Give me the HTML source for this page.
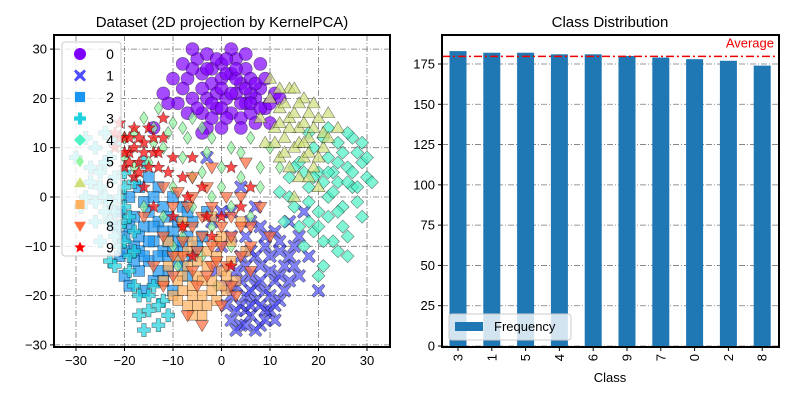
<!DOCTYPE html>
<html><head><meta charset="utf-8"><style>
html,body{margin:0;padding:0;background:#fff}
svg{display:block;font-family:"Liberation Sans",sans-serif}
</style></head><body>
<svg id="chart" width="800" height="400" viewBox="0 0 800 400">
<rect width="800" height="400" fill="#fff"/>
<text x="222" y="27" font-size="15" text-anchor="middle">Dataset (2D projection by KernelPCA)</text>
<text x="610" y="27" font-size="15" text-anchor="middle">Class Distribution</text>
<g id="left"></g>
<g id="right"></g>
</svg>
<script>
const classLabels=["0","1","2","3","4","5","6","7","8","9"];
const c0=[[-5,28],[-3,29],[0,27],[3,28],[5,26],[-7,24],[-4,25],[-2,23],[0,24],[2,25],[4,23],[6,24],[8,22],[-9,19],[-6,20],[-3,20],[-1,21],[1,20],[3,21],[5,19],[7,20],[9,18],[11,21],[-4,17],[-1,18],[2,17],[4,16],[6,17],[-10,24],[-11,19],[-14,14],[10,15],[12,20],[0,14],[-3,14],[8,27],[2,30],[-6,30],[-2,26],[6,21],
[-4,22],[-2,19],[0,22],[1,25],[3,24],[5,22],[7,23],[-6,26],[-8,22],[-5,18],[0,18],[2,21],[4,19],[6,19],[8,18],[-1,28],[1,28],[-3,26],[3,26],[5,29],[-8,27],[10,19],[9,24],[-7,17],[-12,21],[4,14],[7,15],[-2,16],[1,16],[-4,13]];
const c1=[[2,-25],[4,-26],[6,-24],[8,-26],[10,-23],[5,-20],[7,-21],[9,-19],[11,-17],[12,-21],[3,-18],[6,-16],[8,-14],[10,-12],[13,-14],[15,-10],[16,-16],[14,-5],[4,-12],[0,-10],[-2,-5],[2,-3],[5,-8],[12,-9],[18,-12],[20,-19],[1,-22],[-1,-15],[9,-8],[3,-27],[11,-25],[7,-2],[17,-3],[4,2],[-3,8],[7,-18],[9,-23],
[5,-23],[6,-22],[8,-22],[10,-20],[4,-22],[6,-19],[8,-17],[10,-15],[11,-22],[12,-16],[14,-12],[13,-19],[3,-15],[5,-14],[7,-12],[9,-10],[11,-7],[2,-20],[4,-17],[6,-11],[8,-6],[16,-8],[14,-17],[1,-18],[9,-25],[7,-27],[5,-26],[3,-23],[15,-14],[12,-11],[2,-8],[0,-3],[6,-5]];
const c2=[[-20,-8],[-18,-10],[-16,-6],[-14,-9],[-12,-11],[-15,-13],[-13,-5],[-10,-7],[-8,-10],[-18,-4],[-21,-12],[-17,-15],[-11,-15],[-9,-13],[-6,-5],[-12,-2],[-16,-1],[-19,0],[-8,-2],[-14,-17],[-10,-19],[-6,-12],[-22,-6],[-4,-8],[-13,2],[-7,-16],[-20,-16],[-15,4],[-3,-3],[-17,-8],[-11,-9],
[-19,-6],[-17,-11],[-15,-9],[-13,-12],[-11,-12],[-9,-9],[-7,-8],[-16,-12],[-14,-6],[-12,-7],[-10,-11],[-18,-13],[-20,-11],[-13,-15],[-8,-14],[-15,-3],[-11,-4],[-9,-5],[-21,-3],[-19,-18],[-16,-19],[-12,-17],[-5,-10],[-14,0],[-10,0],[-17,2],[-7,-3]];
const c3=[[-25,5],[-23,8],[-27,3],[-29,-2],[-24,0],[-22,-3],[-20,-5],[-18,-7],[-26,-5],[-30,8],[-28,12],[-24,13],[-21,-10],[-23,-13],[-19,-15],[-17,-20],[-15,-23],[-16,-27],[-13,-26],[-12,-21],[-20,2],[-22,-8],[-25,-9],[-18,3],[-14,-18],[-11,-24],[-16,7],[-19,-12],
[-21,0],[-23,-1],[-25,2],[-27,6],[-26,10],[-22,4],[-20,-2],[-19,-4],[-21,-6],[-23,-5],[-24,-3],[-28,0],[-22,11],[-26,-1],[-20,-9],[-18,-11],[-22,-14],[-18,-18],[-15,-20],[-13,-22],[-17,-24],[-20,5],[-24,7]];
const c4=[[20,5],[22,8],[24,3],[26,6],[28,9],[30,4],[22,0],[25,-2],[28,-1],[20,-3],[18,2],[16,7],[14,4],[24,11],[27,12],[21,12],[19,-7],[23,-9],[26,-12],[17,-10],[15,-2],[13,-5],[29,-4],[31,3],[21,-14],[18,13],[25,-6],[12,1],[20,-16],[23,5],[27,2],
[21,3],[23,1],[24,7],[26,3],[25,9],[27,5],[29,7],[22,5],[19,4],[17,5],[18,-1],[20,-6],[22,-4],[24,-3],[26,-8],[21,-9],[18,-5],[16,-6],[14,0],[15,6],[28,2],[30,8],[29,11],[24,-11],[19,10],[22,14],[26,13]];
const c5=[[-18,13],[-14,14],[-10,15],[-6,16],[-2,12],[2,10],[6,12],[-12,10],[-8,8],[-4,5],[0,2],[-10,2],[-15,7],[-6,-2],[-2,-6],[2,-10],[-8,-8],[-12,-4],[4,4],[8,6],[-16,-2],[-4,14],[10,10],[-20,8],[-13,18],[6,-4],[-9,-14],
[-16,16],[-11,13],[-7,12],[-3,9],[0,6],[4,9],[-14,11],[-6,4],[-2,0],[2,-2],[-10,-10],[-4,-12],[-1,-18],[8,2],[12,6],[-18,6],[-20,12],[-8,14]];
const c6=[[10,20],[12,18],[14,16],[16,14],[18,12],[20,16],[13,12],[15,10],[17,8],[19,6],[11,14],[9,11],[21,10],[22,17],[14,22],[17,20],[12,8],[20,2],[16,4],[24,14],[10,24],[18,17],[8,16],[15,0],
[13,19],[15,17],[17,15],[19,14],[21,13],[14,14],[16,11],[18,9],[20,8],[12,15],[11,11],[13,9],[16,19],[19,19],[15,22],[18,4],[22,12],[12,22],[17,11],[14,6]];
const c7=[[-8,-16],[-6,-18],[-4,-20],[-2,-17],[0,-15],[2,-13],[-5,-13],[-3,-11],[-7,-22],[-10,-20],[-1,-21],[1,-19],[-6,-9],[-9,-12],[3,-17],[-4,-24],[-12,-17],[0,-8],[-2,-4],[5,-11],[-8,-5],[-11,-9],[4,-5],
[-7,-14],[-5,-16],[-3,-14],[-1,-12],[1,-16],[-6,-20],[-8,-19],[-2,-19],[0,-18],[-4,-17],[-9,-17],[-11,-14],[-3,-22],[-5,-22],[-7,-11],[-1,-9],[2,-9],[-9,-21],[-6,-24]];
const c8=[[-10,-2],[-6,0],[-2,-2],[2,-4],[6,-6],[-8,-6],[-4,-8],[0,-10],[4,-12],[-12,-8],[-8,-12],[-2,-14],[-5,-18],[2,-18],[-14,-14],[-10,-16],[-6,4],[-2,6],[4,0],[8,-2],[-16,-4],[-12,2],[0,-22],[6,-15],[-4,-26],[5,7],[-7,-24],[10,-8],
[-6,-6],[-4,-4],[-2,-10],[0,-6],[2,-8],[4,-6],[-8,-9],[-5,-11],[-3,-16],[-1,-13],[1,-14],[-7,-2],[-3,2],[1,0],[-10,-12],[-6,-15],[-12,-18],[3,-20],[6,-10],[-9,1]];
const c9=[[-20,12],[-18,14],[-16,11],[-19,9],[-17,7],[-14,9],[-21,15],[-22,10],[-15,14],[-12,12],[-13,6],[-10,8],[-18,4],[-16,2],[-8,4],[-6,8],[-4,2],[-10,-4],[-2,-8],[-6,-12],[2,6],[0,-4],[6,2],[-14,-2],[-20,6],[-12,16],[2,-14],
[-19,12],[-17,12],[-21,12],[-18,10],[-20,9],[-16,9],[-15,6],[-17,5],[-19,7],[-14,12],[-22,13],[-13,9],[-11,5],[-7,0],[-3,-4],[4,-2],[-8,-6]];
const scatterTicks=[-30,-20,-10,0,10,20,30];
const barCategories=["3","1","5","4","6","9","7","0","2","8"];
const barValues=[183,182,182,181,181,180,179,178,177,174];
const barTicks=[0,25,50,75,100,125,150,175];

const NS="http://www.w3.org/2000/svg";
function mk(tag,attrs,parent){const e=document.createElementNS(NS,tag);for(const k in attrs)e.setAttribute(k,attrs[k]);parent.appendChild(e);return e;}
const L=document.getElementById('left'),R=document.getElementById('right');
const lx0=54,lx1=390,ly0=35,ly1=347;
const sx=v=>221.5+v*4.85, sy=v=>197-v*4.93;
scatterTicks.forEach(t=>{
 const g1=mk('line',{x1:sx(t),x2:sx(t),y1:ly0,y2:ly1,stroke:'#777','stroke-width':0.8,'stroke-dasharray':'6 2 1 2'},L);
 
 const g2=mk('line',{x1:lx0,x2:lx1,y1:sy(t),y2:sy(t),stroke:'#777','stroke-width':0.8,'stroke-dasharray':'6 2 1 2'},L);
 
 mk('line',{x1:sx(t),x2:sx(t),y1:ly1,y2:ly1+4,stroke:'#000'},L);
 mk('line',{x1:lx0-4,x2:lx0,y1:sy(t),y2:sy(t),stroke:'#000'},L);
 const a=mk('text',{x:sx(t),y:ly1+18,'font-size':13,'text-anchor':'middle'},L);a.textContent=t===0?'0':(t<0?'\u2212'+(-t):t);
 
 const b=mk('text',{x:lx0-7,y:sy(t)+4.5,'font-size':13,'text-anchor':'end'},L);b.textContent=t===0?'0':(t<0?'\u2212'+(-t):t);
 
});
const colors=['#8000ff','#4d4dfc','#1a96f2','#1fd0e0','#4cf2c6','#92f5a0','#cfe07a','#ffb060','#ff6a3a','#ff0000'];
const shapes=['circle','x','square','plus','diamond','tdiamond','tri','sq7','tridown','star'];
function marker(shape,x,y,col,parent,s){
 s=s||6;let d;
 switch(shape){
  case 'circle':return mk('circle',{cx:x,cy:y,r:s,fill:col,'fill-opacity':0.7,stroke:'#000','stroke-opacity':0.5,'stroke-width':0.6},parent);
  case 'square':d=`M${x-s*0.85},${y-s*0.85}h${s*1.7}v${s*1.7}h${-s*1.7}z`;break;
  case 'sq7':d=`M${x-s*0.75},${y-s*0.75}h${s*1.5}v${s*1.5}h${-s*1.5}z`;break;
  case 'diamond':d=`M${x},${y-s}L${x+s},${y}L${x},${y+s}L${x-s},${y}z`;break;
  case 'tdiamond':d=`M${x},${y-s}L${x+s*0.65},${y}L${x},${y+s}L${x-s*0.65},${y}z`;break;
  case 'tri':d=`M${x},${y-s}L${x+s},${y+s*0.7}L${x-s},${y+s*0.7}z`;break;
  case 'tridown':d=`M${x},${y+s}L${x+s},${y-s*0.7}L${x-s},${y-s*0.7}z`;break;
  case 'plus':{const a=s*0.35;d=`M${x-a},${y-s}h${2*a}v${s-a}h${s-a}v${2*a}h${-(s-a)}v${s-a}h${-2*a}v${-(s-a)}h${-(s-a)}v${-2*a}h${s-a}z`;break;}
  case 'x':{const a=s*0.3,b=s;d=`M${x},${y-a*1.4}L${x+b-a},${y-b}L${x+b},${y-b+a}L${x+a*1.4},${y}L${x+b},${y+b-a}L${x+b-a},${y+b}L${x},${y+a*1.4}L${x-b+a},${y+b}L${x-b},${y+b-a}L${x-a*1.4},${y}L${x-b},${y-b+a}L${x-b+a},${y-b}z`;break;}
  case 'star':{let p=[];for(let i=0;i<10;i++){const r=i%2?s*0.45:s,an=-Math.PI/2+i*Math.PI/5;p.push((x+r*Math.cos(an)).toFixed(1)+','+(y+r*Math.sin(an)).toFixed(1));}d='M'+p.join('L')+'z';break;}
 }
 return mk('path',{d:d,fill:col,'fill-opacity':0.7,stroke:'#000','stroke-opacity':0.5,'stroke-width':0.6},parent);
}
const classes=[c0,c1,c2,c3,c4,c5,c6,c7,c8,c9];
const clipG=mk('g',{},L);
classes.forEach((pts,ci)=>{
 pts.forEach(p=>{
  const m=marker(shapes[ci],sx(p[0]),sy(p[1]),colors[ci],clipG,6.5);
  
  
 });
});
const lg=mk('rect',{x:62,y:42,width:59,height:214,rx:3,fill:'#fff','fill-opacity':0.8,stroke:'#ccc'},L);

classLabels.forEach((lab,i)=>{
 const y=54+i*21.5;
 const m=marker(shapes[i],80,y,colors[i],L,6);m.setAttribute('fill-opacity',1);m.setAttribute('stroke','none');
 
 const t=mk('text',{x:110,y:y+5,'font-size':14,'text-anchor':'middle'},L);t.textContent=lab;
 
});
mk('rect',{x:lx0,y:ly0,width:lx1-lx0,height:ly1-ly0,fill:'none',stroke:'#000','stroke-width':2},L);
const rx0=442,rx1=779,ry0=35,ry1=347;
const by=v=>346-v*(282/175);
const bx=i=>458+i*33.8;
barTicks.forEach(t=>{
 const g=mk('line',{x1:rx0,x2:rx1,y1:by(t),y2:by(t),stroke:'#777','stroke-width':0.8,'stroke-dasharray':'6 2 1 2'},R);
 
 mk('line',{x1:rx0-4,x2:rx0,y1:by(t),y2:by(t),stroke:'#000'},R);
 const a=mk('text',{x:rx0-7,y:by(t)+4.5,'font-size':13,'text-anchor':'end'},R);a.textContent=t;
 
});
barCategories.forEach((c,i)=>{
 const b=mk('rect',{x:bx(i)-8.5,y:by(barValues[i]),width:17,height:by(0)-by(barValues[i]),fill:'#1f77b4'},R);
 
 mk('line',{x1:bx(i),x2:bx(i),y1:ry1,y2:ry1+4,stroke:'#000'},R);
 const t=mk('text',{x:0,y:0,'font-size':13,'text-anchor':'end',transform:`translate(${bx(i)+4.5},${ry1+7}) rotate(-90)`},R);t.textContent=c;
 
});
const avg=barValues.reduce((a,b)=>a+b,0)/barValues.length;
const al=mk('line',{x1:rx0,x2:rx1,y1:by(avg),y2:by(avg),stroke:'#e00','stroke-width':1.5,'stroke-dasharray':'8 3 2 3'},R);

const at=mk('text',{x:774,y:by(avg)-9,'font-size':13,'text-anchor':'end',fill:'#e00'},R);at.textContent='Average';

const bl=mk('rect',{x:449,y:314,width:122,height:26,rx:3,fill:'#fff','fill-opacity':0.8,stroke:'#ccc'},R);

mk('rect',{x:455,y:322,width:28,height:9,fill:'#1f77b4'},R);
const ft=mk('text',{x:494,y:331,'font-size':13},R);ft.textContent='Frequency';

const cl=mk('text',{x:610,y:382,'font-size':13,'text-anchor':'middle'},R);cl.textContent='Class';

mk('rect',{x:rx0,y:ry0,width:rx1-rx0,height:ry1-ry0,fill:'none',stroke:'#000','stroke-width':2},R);
</script>
</body></html>
